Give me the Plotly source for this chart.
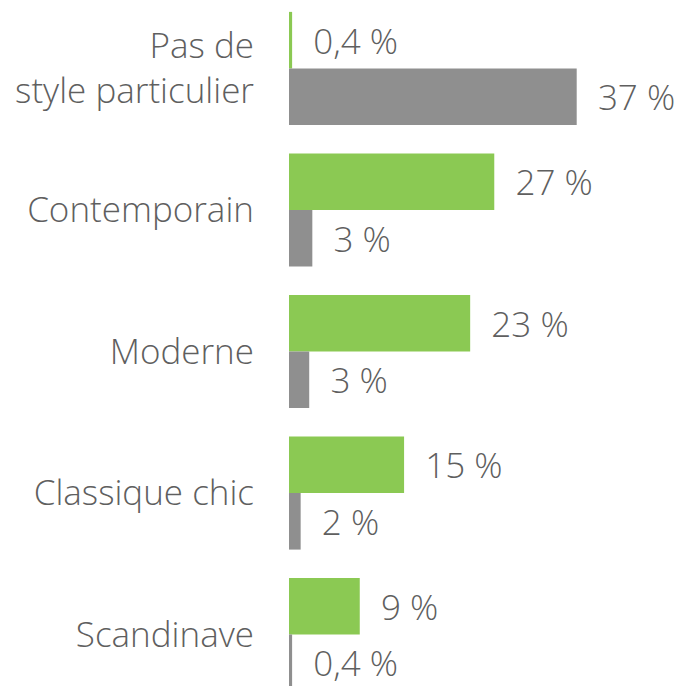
import plotly.graph_objects as go

categories = ["Pas de<br>style particulier", "Contemporain", "Moderne", "Classique chic", "Scandinave"]
green_values = [0.4, 26.4, 23.3, 14.8, 9.1]
gray_values = [37.0, 3.0, 2.6, 1.5, 0.4]
green_labels = ["0,4 %", "27 %", "23 %", "15 %", "9 %"]
gray_labels = ["37 %", "3 %", "3 %", "2 %", "0,4 %"]

GREEN = "#8BC953"
GRAY = "#8F8F8F"
TXT = "#5f5f5f"
FONT = "Open Sans"
pad = "\u00a0\u00a0"

fig = go.Figure()
fig.add_trace(go.Bar(
    y=categories, x=green_values, orientation="h",
    marker=dict(color=GREEN, line=dict(width=0)),
    text=[pad + t for t in green_labels], textposition="outside",
    textfont=dict(family=FONT, size=35, color=TXT, weight=300),
    constraintext="none", cliponaxis=False, hoverinfo="skip",
))
fig.add_trace(go.Bar(
    y=categories, x=gray_values, orientation="h",
    marker=dict(color=GRAY, line=dict(width=0)),
    text=[pad + t for t in gray_labels], textposition="outside",
    textfont=dict(family=FONT, size=35, color=TXT, weight=300),
    constraintext="none", cliponaxis=False, hoverinfo="skip",
))

fig.update_layout(
    width=677, height=686,
    margin=dict(l=289, r=0, t=0, b=0),
    barmode="group", bargap=0.2, bargroupgap=0,
    showlegend=False,
    plot_bgcolor="white", paper_bgcolor="white",
    xaxis=dict(range=[0, 49.9], visible=False, fixedrange=True),
    yaxis=dict(
        type="category", range=[4.364, -0.484],
        showgrid=False, zeroline=False, showline=False, ticks="",
        tickfont=dict(family=FONT, size=35, color=TXT, weight=300),
        ticklabelstandoff=34,
    ),
)

fig.write_html("out.html")
